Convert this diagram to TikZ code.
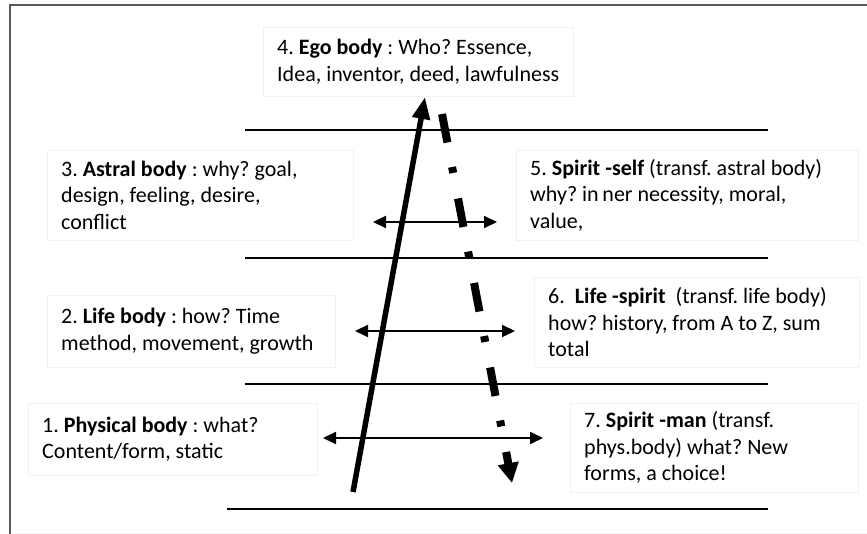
\documentclass[tikz,border=0pt]{standalone}
\usepackage{fontspec}
\setmainfont{Carlito}
\usetikzlibrary{arrows.meta}
\frenchspacing
\definecolor{framegray}{RGB}{89,89,89}
\definecolor{boxgray}{RGB}{242,242,242}
\tikzstyle{body} = [rectangle, draw=boxgray, anchor=north west, inner xsep=14pt, inner ysep=0pt, align=flush left, font=\fontsize{22}{26.5}\selectfont]
\tikzstyle{sep} = [line width=1.5pt]
\tikzstyle{link} = [line width=2pt, {Triangle[length=13pt,width=12pt]}-{Triangle[length=13pt,width=12pt]}]
\tikzstyle{rise} = [line width=5.5pt, -{Triangle[length=22pt,width=17pt]}]
\tikzstyle{fall} = [line width=8pt, dash pattern=on 29pt off 25pt on 6pt off 26pt, -{Triangle[length=20pt,width=20pt]}]
\begin{document}
\begin{tikzpicture}[x=1pt,y=-1pt]
	\useasboundingbox (0,0) rectangle (867,534);
	\draw[framegray, line width=2pt] (10,534) -- (10,5) -- (867,5);
	\draw[boxgray] (12,533) -- (867,533);

	\node (ego-body) [body, minimum height=69pt] at (263,27) {4. \textbf{Ego body} : Who? Essence,\\ Idea, inventor, deed, lawfulness};
	\node (astral-body) [body, text width=278pt, minimum height=90pt] at (47,150) {3. \textbf{Astral body} : why? goal,\\ design, feeling, desire,\\ conflict};
	\node (spirit-self) [body, text width=314pt, minimum height=90pt] at (516,150) {5. \textbf{Spirit -self} (transf. astral body)\\ why? in\,ner necessity, moral,\\ value,};
	\node (life-body) [body, text width=260pt, minimum height=72pt] at (47,295) {2. \textbf{Life body} : how? Time\\ method, movement, growth};
	\node (life-spirit) [body, text width=297pt, minimum height=90pt] at (534,277) {6.\ \ \textbf{Life -spirit}\ \ (transf. life body)\\ how? history, from A to Z, sum\\ total};
	\node (physical-body) [body, text width=261pt, minimum height=72pt] at (28,403) {1. \textbf{Physical body} : what?\\ Content/form, static};
	\node (spirit-man) [body, text width=260pt, minimum height=89pt] at (570,403) {7. \textbf{Spirit -man} (transf.\\ phys.body) what? New\\ forms, a choice!};

	\foreach \y/\x in {130/245, 258/245, 384/245, 509/227}
		\draw[sep] (\x,\y) -- (768,\y);

	\coordinate (why-left) at (373,222);
	\coordinate (why-right) at (497,222);
	\coordinate (how-left) at (355,331);
	\coordinate (how-right) at (515,331);
	\coordinate (what-left) at (323,438);
	\coordinate (what-right) at (543,438);
	\coordinate (rise-foot) at (353,492);
	\coordinate (rise-tip) at (425,97);
	\coordinate (fall-top) at (442,114);
	\coordinate (fall-tip) at (512,483);

	\draw[link] (why-left) -- (why-right);
	\draw[link] (how-left) -- (how-right);
	\draw[link] (what-left) -- (what-right);
	\draw[rise] (rise-foot) -- (rise-tip);
	\draw[fall] (fall-top) -- (fall-tip);
\end{tikzpicture}
\end{document}
